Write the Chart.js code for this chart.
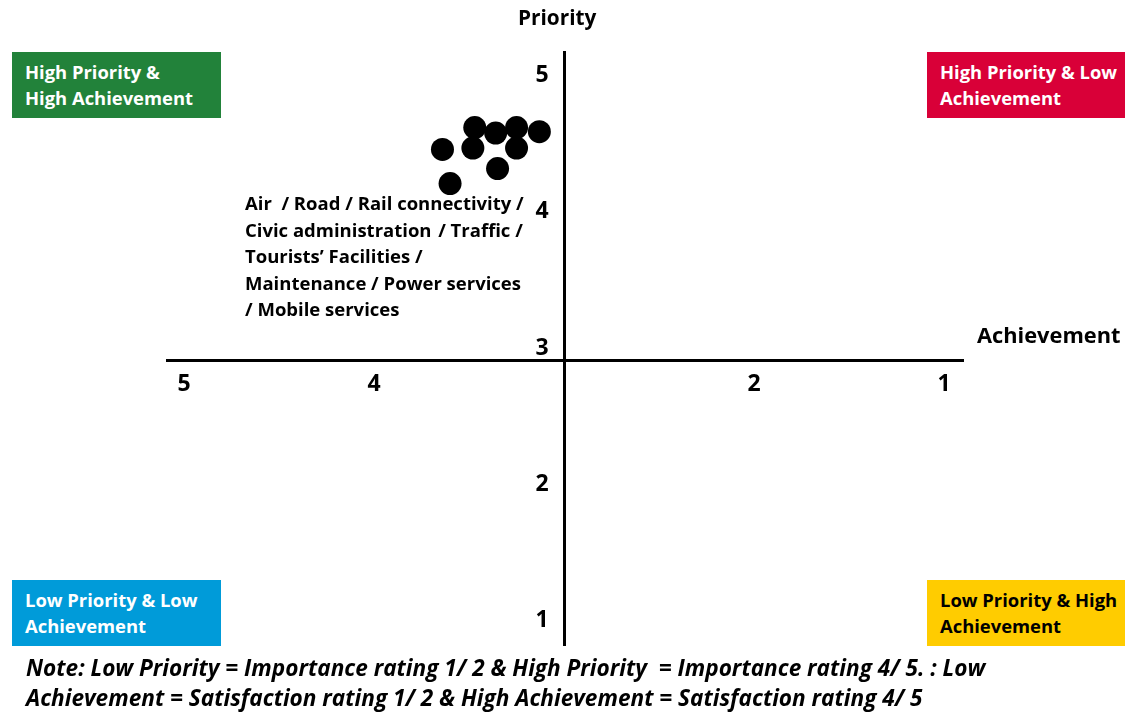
<!DOCTYPE html>
<html>
<head>
<meta charset="utf-8">
<script src="https://cdn.jsdelivr.net/npm/chart.js@4/dist/chart.umd.min.js"></script>
<style>
  html, body { margin: 0; padding: 0; background: #fff; }
  #wrap { position: relative; width: 1125px; height: 713px; overflow: hidden; font-family: "Open Sans", Lato, sans-serif; }
  #chart { position: absolute; left: 0; top: 0; }
  .box { position: absolute; height: 66px; box-sizing: border-box; padding: 7px 0 0 13px;
         font-weight: 700; font-size: 18.4px; line-height: 26px; color: #fff; white-space: nowrap; }
  .txt { position: absolute; font-weight: 700; color: #000; white-space: nowrap; }
</style>
</head>
<body>
<div id="wrap">
  <canvas id="chart" width="1125" height="713"></canvas>
  <div class="box" style="left:12px; top:52px; width:209px; background:#22823a;">High Priority &amp;<br>High Achievement</div>
  <div class="box" style="left:927px; top:52px; width:198px; background:#d90038;">High Priority &amp; Low<br>Achievement</div>
  <div class="box" style="left:12px; top:580px; width:209px; background:#009bd9;">Low Priority &amp; Low<br>Achievement</div>
  <div class="box" style="left:927px; top:580px; width:198px; background:#ffcc00; color:#000;">Low Priority &amp; High<br>Achievement</div>
  <div class="txt" style="left:518px; top:3px; font-size:20.8px;">Priority</div>
  <div class="txt" style="left:977px; top:320px; font-size:21.8px;">Achievement</div>
  <div class="txt" style="left:245px; top:190px; font-size:18.5px; line-height:26.5px;">Air&nbsp; / Road / Rail connectivity /<br>Civic administration&#8202; / Traffic /<br>Tourists’ Facilities /<br>Maintenance / Power services<br>/ Mobile services</div>
  <div class="txt" style="left:26px; top:653px; font-size:22.6px; line-height:30px; font-style:italic;">Note: Low Priority = Importance rating 1/ 2 &amp; High Priority&nbsp; = Importance rating 4/ 5. : Low<br>Achievement = Satisfaction rating 1/ 2 &amp; High Achievement = Satisfaction rating 4/ 5</div>
</div>
<script>
// Service ratings: achievement (satisfaction) and priority (importance), 1-5 scale
const achievement = [3.47, 3.36, 3.25, 3.13, 3.64, 3.48, 3.25, 3.35, 3.60];
const priority    = [4.71, 4.67, 4.71, 4.68, 4.55, 4.56, 4.56, 4.41, 4.30];

// Tick values shown on each axis (achievement runs from 5 on the left to 1 on the right)
const xTickValues = [5, 4, 2, 1];
const yTickValues = [5, 4, 3, 2, 1];

const points = achievement.map((a, i) => ({ x: a, y: priority[i] }));

const tickFont = { family: '"Open Sans", Lato, sans-serif', size: 23, weight: 'bold' };

new Chart(document.getElementById('chart'), {
  type: 'scatter',
  data: {
    datasets: [{
      data: points,
      backgroundColor: '#000',
      borderColor: '#000',
      borderWidth: 0,
      pointRadius: 11.5,
      pointHoverRadius: 11.5
    }]
  },
  options: {
    responsive: false,
    animation: false,
    devicePixelRatio: 1,
    layout: { padding: { left: 167, right: 162, top: 52, bottom: 68 } },
    plugins: { legend: { display: false }, tooltip: { enabled: false } },
    scales: {
      x: {
        type: 'linear',
        reverse: true,
        min: 0.9,
        max: 5.09,
        position: { y: 3 },
        grid: { display: false, drawTicks: false },
        border: { color: '#000', width: 3 },
        afterBuildTicks: s => { s.ticks = xTickValues.map(v => ({ value: v })); },
        ticks: { color: '#000', font: tickFont, padding: 10, maxRotation: 0, autoSkip: false,
                 callback: v => String(v) }
      },
      y: {
        type: 'linear',
        min: 0.919,
        max: 5.264,
        position: { x: 3 },
        grid: { display: false, drawTicks: false },
        border: { color: '#000', width: 3 },
        afterBuildTicks: s => { s.ticks = yTickValues.map(v => ({ value: v })); },
        // labels sit to the left of the centred axis, kept clear of the line by a trailing gap
        ticks: { color: '#000', font: tickFont, labelOffset: -13, autoSkip: false,
                 callback: v => String(v) + '\u2002\u2009' }
      }
    }
  }
});
</script>
</body>
</html>
